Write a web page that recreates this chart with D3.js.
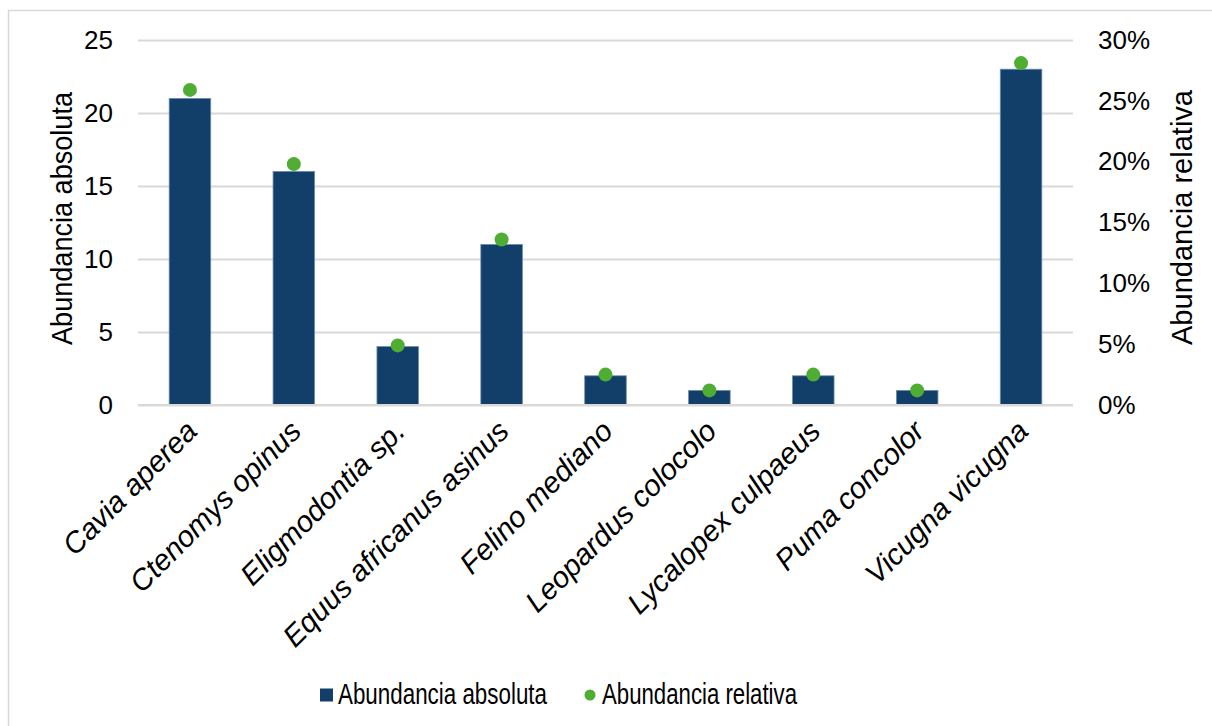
<!DOCTYPE html>
<html>
<head>
<meta charset="utf-8">
<script src="https://cdn.jsdelivr.net/npm/d3@7"></script>
<style>
  html, body { margin: 0; padding: 0; background: #fff; }
  svg { display: block; font-family: "Liberation Sans", Arial, sans-serif; }
</style>
</head>
<body>
<svg id="chart" width="1212" height="726"></svg>
<script>
// Species recorded and their counts
const species = [
  "Cavia aperea", "Ctenomys opinus", "Eligmodontia sp.", "Equus africanus asinus",
  "Felino mediano", "Leopardus colocolo", "Lycalopex culpaeus", "Puma concolor", "Vicugna vicugna"
];
const absoluta = [21, 16, 4, 11, 2, 1, 2, 1, 23];
const relativa = [25.9, 19.8, 4.9, 13.6, 2.5, 1.2, 2.5, 1.2, 28.1]; // percent

const leftTicks = [0, 5, 10, 15, 20, 25];
const rightTicks = [0, 5, 10, 15, 20, 25, 30];

const svg = d3.select("#chart");
const plot = { left: 138, right: 1073, top: 40, bottom: 405 };

// outer frame
svg.append("rect")
  .attr("x", 8.5).attr("y", 10.5)
  .attr("width", 1400).attr("height", 900)
  .attr("fill", "#fff").attr("stroke", "#d9d9d9").attr("stroke-width", 1.5);

const x = d3.scaleBand()
  .domain(species)
  .range([plot.left, plot.right])
  .paddingInner(0.6)
  .paddingOuter(0.3);

const yL = d3.scaleLinear().domain([0, 25]).range([plot.bottom, plot.top]);
const yR = d3.scaleLinear().domain([0, 30]).range([plot.bottom, plot.top]);

// gridlines
svg.append("g")
  .attr("transform", `translate(${plot.left},0)`)
  .call(d3.axisLeft(yL).tickValues(leftTicks).tickSize(-(plot.right - plot.left)).tickFormat(""))
  .call(g => g.select(".domain").remove())
  .call(g => g.selectAll("line").attr("stroke", "#d9d9d9").attr("stroke-width", 2));

// left axis labels
svg.append("g")
  .attr("transform", `translate(${plot.left},0)`)
  .call(d3.axisLeft(yL).tickValues(leftTicks).tickSize(0).tickPadding(25))
  .call(g => g.select(".domain").remove())
  .call(g => g.selectAll("text")
    .attr("font-family", "Liberation Sans, Arial, sans-serif")
    .attr("font-size", 26).attr("fill", "#000"));

// right axis labels
svg.append("g")
  .attr("transform", `translate(${plot.right},0)`)
  .call(d3.axisRight(yR).tickValues(rightTicks).tickSize(0).tickPadding(25)
    .tickFormat(d => d + "%"))
  .call(g => g.select(".domain").remove())
  .call(g => g.selectAll("text")
    .attr("font-family", "Liberation Sans, Arial, sans-serif")
    .attr("font-size", 26).attr("fill", "#000"));

// bars
svg.append("g").selectAll("rect")
  .data(species)
  .join("rect")
  .attr("x", d => x(d))
  .attr("width", x.bandwidth())
  .attr("y", (d, i) => yL(absoluta[i]))
  .attr("height", (d, i) => yL(0) - yL(absoluta[i]))
  .attr("fill", "#123f6a")
  .attr("stroke", "#6d8cae")
  .attr("stroke-width", 0.8);

// baseline
svg.append("line")
  .attr("x1", plot.left).attr("x2", plot.right)
  .attr("y1", yL(0)).attr("y2", yL(0))
  .attr("stroke", "#d9d9d9").attr("stroke-width", 2);

// relative abundance markers
svg.append("g").selectAll("circle")
  .data(species)
  .join("circle")
  .attr("cx", d => x(d) + x.bandwidth() / 2)
  .attr("cy", (d, i) => yR(relativa[i]))
  .attr("r", 7)
  .attr("fill", "#4fad33");

// category labels
svg.append("g").selectAll("text")
  .data(species)
  .join("text")
  .attr("transform", d => `translate(${x(d) + x.bandwidth() / 2 + 9},${plot.bottom + 28}) rotate(-45)`)
  .attr("text-anchor", "end")
  .attr("font-style", "italic")
  .attr("font-size", 29.5)
  .attr("fill", "#000")
  .text(d => d);

// axis titles
svg.append("text")
  .attr("transform", `translate(72,${(92 + 345) / 2}) rotate(-90)`)
  .attr("text-anchor", "middle")
  .attr("font-size", 29)
  .attr("textLength", 253).attr("lengthAdjust", "spacingAndGlyphs")
  .text("Abundancia absoluta");

svg.append("text")
  .attr("transform", `translate(1192,${(90 + 345) / 2}) rotate(-90)`)
  .attr("text-anchor", "middle")
  .attr("font-size", 29)
  .attr("textLength", 255).attr("lengthAdjust", "spacingAndGlyphs")
  .text("Abundancia relativa");

// legend
const legend = svg.append("g");
legend.append("rect")
  .attr("x", 320).attr("y", 688.5).attr("width", 13).attr("height", 13)
  .attr("fill", "#123f6a");
legend.append("text")
  .attr("x", 338).attr("y", 704)
  .attr("font-size", 29)
  .attr("textLength", 209).attr("lengthAdjust", "spacingAndGlyphs")
  .text("Abundancia absoluta");
legend.append("circle")
  .attr("cx", 590).attr("cy", 695).attr("r", 5.5)
  .attr("fill", "#4fad33");
legend.append("text")
  .attr("x", 602).attr("y", 704)
  .attr("font-size", 29)
  .attr("textLength", 195).attr("lengthAdjust", "spacingAndGlyphs")
  .text("Abundancia relativa");
</script>
</body>
</html>
